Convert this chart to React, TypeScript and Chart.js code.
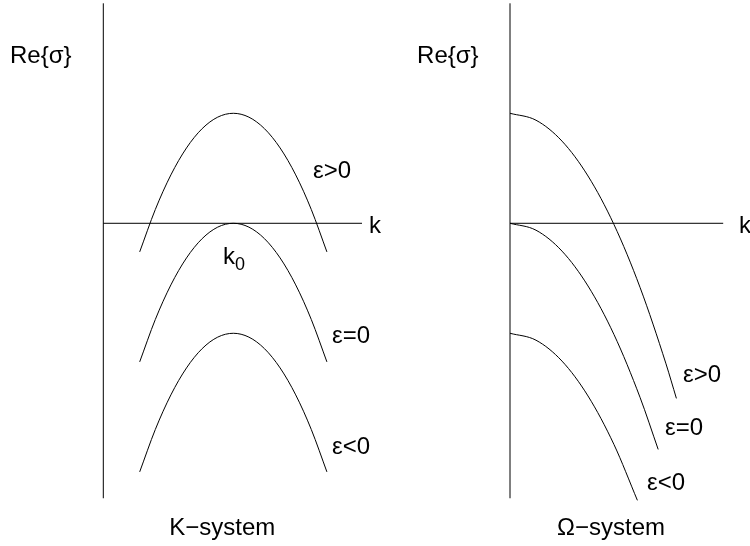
import React, { useEffect, useRef } from "react";
import { Chart, registerables } from "chart.js";

Chart.register(...registerables);

// ---- K-system: growth rate vs. wavenumber, maximum at k0 ----
const K_SYS_K = [0.28, 0.4, 0.52, 0.64, 0.76, 0.88, 1.0, 1.12, 1.24, 1.36, 1.48, 1.6, 1.72];
const K_SYS_EPS_POS = [-0.26, 0.125, 0.44, 0.685, 0.86, 0.965, 1.0, 0.965, 0.86, 0.685, 0.44, 0.125, -0.26];
const K_SYS_EPS_ZERO = [-1.26, -0.875, -0.56, -0.315, -0.14, -0.035, 0.0, -0.035, -0.14, -0.315, -0.56, -0.875, -1.26];
const K_SYS_EPS_NEG = [-2.26, -1.875, -1.56, -1.315, -1.14, -1.035, -1.0, -1.035, -1.14, -1.315, -1.56, -1.875, -2.26];

// ---- Ω-system: growth rate maximal at k = 0 ----
const OM_K_POS = [0, 0.2, 0.4, 0.6, 0.8, 1.0, 1.2, 1.28];
const OM_EPS_POS = [1.0, 0.937, 0.747, 0.43, -0.012, -0.582, -1.278, -1.592];
const OM_K_ZERO = [0, 0.2, 0.4, 0.6, 0.8, 1.0, 1.14];
const OM_EPS_ZERO = [0.0, -0.063, -0.253, -0.57, -1.012, -1.582, -2.056];
const OM_K_NEG = [0, 0.2, 0.4, 0.6, 0.8, 0.98];
const OM_EPS_NEG = [-1.0, -1.063, -1.253, -1.57, -2.012, -2.519];

// axis extents (data units)
const SIGMA_AXIS = [-2.5, 2.0];
const K_SYS_K_AXIS = [0, 1.99];
const OM_K_AXIS = [0, 1.64];

const FONT = '"Liberation Sans", Arial, Helvetica, sans-serif';

type Label = { text: string; x: number; y: number; size?: number; align?: CanvasTextAlign };

const K_SYS_LABELS: Label[] = [
  { text: "Re{\u03c3}", x: -0.718, y: 1.457 },
  { text: "\u03b5>0", x: 1.613, y: 0.412 },
  { text: "k", x: 2.044, y: -0.088 },
  { text: "k", x: 0.921, y: -0.37 },
  { text: "0", x: 1.013, y: -0.424, size: 18 },
  { text: "\u03b5=0", x: 1.759, y: -1.088 },
  { text: "\u03b5<0", x: 1.759, y: -2.097 },
  { text: "K\u2212system", x: 0.915, y: -2.834, align: "center" },
];

const OM_LABELS: Label[] = [
  { text: "Re{\u03c3}", x: -0.715, y: 1.457 },
  { text: "k", x: 1.762, y: -0.088 },
  { text: "\u03b5>0", x: 1.331, y: -1.439 },
  { text: "\u03b5=0", x: 1.192, y: -1.921 },
  { text: "\u03b5<0", x: 1.054, y: -2.421 },
  { text: "\u03a9\u2212system", x: 0.777, y: -2.834, align: "center" },
];

const labelPlugin = {
  id: "panelLabels",
  afterDraw(chart: any, _args: any, opts: any) {
    const { ctx, scales } = chart;
    const items: Label[] = opts.items || [];
    ctx.save();
    ctx.fillStyle = "#000";
    ctx.textBaseline = "alphabetic";
    for (const l of items) {
      ctx.font = `${l.size ?? 24}px ${FONT}`;
      ctx.textAlign = l.align ?? "left";
      ctx.fillText(l.text, scales.x.getPixelForValue(l.x), scales.y.getPixelForValue(l.y));
    }
    ctx.restore();
  },
};

const zip = (xs: number[], ys: number[]) => xs.map((x, i) => ({ x, y: ys[i] }));

const curve = (data: { x: number; y: number }[]) => ({
  data,
  borderColor: "#000",
  borderWidth: 1,
  pointRadius: 0,
  showLine: true,
  cubicInterpolationMode: "monotone" as const,
  clip: false as const,
});

const axisLine = (data: { x: number; y: number }[]) => ({
  data,
  borderColor: "#000",
  borderWidth: 1,
  pointRadius: 0,
  showLine: true,
  tension: 0,
  clip: false as const,
});

// vertical mapping shared by both panels: chart height 546
const Y_MIN = -2.934;
const Y_MAX = 2.03;

function Panel(props: {
  width: number;
  left: number;
  xMin: number;
  xMax: number;
  kAxis: number[];
  curves: { x: number; y: number }[][];
  labels: Label[];
}) {
  const ref = useRef<HTMLCanvasElement>(null);
  useEffect(() => {
    const canvas = ref.current;
    if (!canvas) return;
    const chart = new Chart(canvas, {
      type: "scatter",
      data: {
        datasets: [
          axisLine([
            { x: 0, y: SIGMA_AXIS[0] },
            { x: 0, y: SIGMA_AXIS[1] },
          ]),
          axisLine([
            { x: props.kAxis[0], y: 0 },
            { x: props.kAxis[1], y: 0 },
          ]),
          ...props.curves.map(curve),
        ],
      },
      options: {
        animation: false,
        responsive: false,
        devicePixelRatio: 1,
        layout: { padding: 0 },
        scales: {
          x: { type: "linear", display: false, min: props.xMin, max: props.xMax },
          y: { type: "linear", display: false, min: Y_MIN, max: Y_MAX },
        },
        plugins: {
          legend: { display: false },
          tooltip: { enabled: false },
          panelLabels: { items: props.labels },
        } as any,
      },
      plugins: [labelPlugin],
    });
    return () => chart.destroy();
  }, []);
  return (
    <canvas
      ref={ref}
      width={props.width}
      height={546}
      style={{ position: "absolute", left: props.left, top: 0, width: props.width, height: 546 }}
    />
  );
}

export default function App() {
  return (
    <div style={{ position: "absolute", left: 0, top: 0, width: 750, height: 546, background: "#fff" }}>
      <Panel
        width={395}
        left={0}
        xMin={-103.3 / 130}
        xMax={(395 - 103.3) / 130}
        kAxis={K_SYS_K_AXIS}
        curves={[
          zip(K_SYS_K, K_SYS_EPS_POS),
          zip(K_SYS_K, K_SYS_EPS_ZERO),
          zip(K_SYS_K, K_SYS_EPS_NEG),
        ]}
        labels={K_SYS_LABELS}
      />
      <Panel
        width={355}
        left={395}
        xMin={-115 / 130}
        xMax={240 / 130}
        kAxis={OM_K_AXIS}
        curves={[
          zip(OM_K_POS, OM_EPS_POS),
          zip(OM_K_ZERO, OM_EPS_ZERO),
          zip(OM_K_NEG, OM_EPS_NEG),
        ]}
        labels={OM_LABELS}
      />
    </div>
  );
}
